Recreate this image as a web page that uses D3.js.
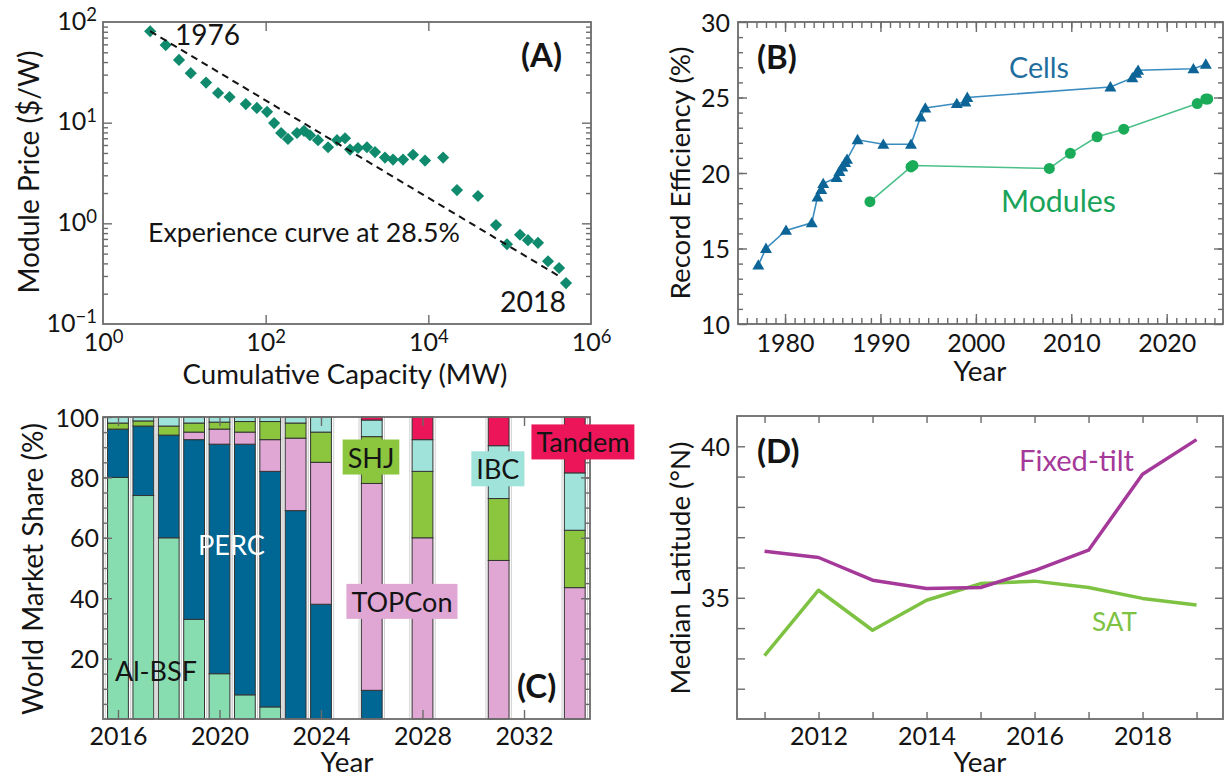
<!DOCTYPE html>
<html>
<head>
<meta charset="utf-8">
<script src="https://cdn.jsdelivr.net/npm/d3@7"></script>
<style>
  html, body { margin: 0; padding: 0; background: #fff; }
  svg { display: block; font-family: Lato, "Open Sans", sans-serif; }
</style>
</head>
<body>
<svg id="chart" width="1225" height="780"></svg>
<script>
// ---------------- Panel A: module price vs cumulative capacity ----------------
const capacityMW = [3.8, 5.9, 8.6, 12, 18.5, 26, 36, 57, 78, 104, 127, 155, 188, 243, 296, 351,
  440, 585, 754, 946, 1090, 1365, 1760, 2210, 2930, 3680, 4890, 6480, 9110, 15200,
  22500, 40800, 67900, 92700, 134000, 168000, 223000, 296000, 405000, 493000];
const modulePrice = [81, 59, 42, 31, 25, 19.7, 18, 15.3, 14, 12.8, 9.9, 7.9, 6.9, 7.9, 8.3, 7.5,
  6.7, 5.7, 6.7, 7.0, 5.4, 5.6, 5.7, 5.1, 4.5, 4.3, 4.3, 4.8, 4.2, 4.5,
  2.14, 1.87, 0.96, 0.62, 0.77, 0.68, 0.64, 0.42, 0.36, 0.255];
const experienceRate = 0.285;          // price drop per doubling of capacity
const experienceStart = [3.8, 81];     // [MW, $/W]
const experienceEndMW = 4.05e5;
const capacityLabelTicks = [1, 1e2, 1e4, 1e6];
const priceLabelTicks = [0.1, 1, 10, 100];

// ---------------- Panel B: record efficiencies ----------------
const cellYears = [1977.2, 1978.0, 1980.1, 1982.8, 1983.4, 1983.8, 1984.0, 1985.4, 1985.7, 1986.0,
  1986.3, 1986.5, 1987.6, 1990.3, 1993.2, 1994.2, 1994.7, 1998.0, 1998.9, 1999.1,
  2014.1, 2016.4, 2016.8, 2017.0, 2022.8, 2024.1];
const cellEfficiency = [13.9, 15.0, 16.2, 16.7, 18.4, 18.9, 19.3, 19.7, 20.1, 20.4,
  20.7, 20.9, 22.2, 21.9, 21.9, 23.7, 24.3, 24.6, 24.7, 25.0,
  25.7, 26.3, 26.6, 26.8, 26.9, 27.2];
const moduleYears = [1988.9, 1993.2, 1993.4, 2007.7, 2009.9, 2012.7, 2015.5, 2023.2, 2024.1, 2024.3];
const moduleEfficiency = [18.1, 20.4, 20.5, 20.3, 21.3, 22.4, 22.9, 24.6, 24.9, 24.9];
const efficiencyYearTicks = [1980, 1990, 2000, 2010, 2020];
const efficiencyTicks = [10, 15, 20, 25, 30];

// ---------------- Panel C: world market share by cell technology ----------------
const shareYears = [2016, 2017, 2018, 2019, 2020, 2021, 2022, 2023, 2024, 2026, 2028, 2031, 2034];
const technologies = ["Al-BSF", "PERC", "TOPCon", "SHJ", "IBC", "Tandem"];
const shareAlBSF  = [80, 74, 60, 33, 15, 8, 4, 0, 0, 0, 0, 0, 0];
const sharePERC   = [16, 23, 34, 59.5, 76, 83, 78, 69, 38, 9.5, 0, 0, 0];
const shareTOPCon = [0, 0, 0, 2.5, 5, 4, 10.5, 24, 47, 68.5, 60, 52.5, 43.5];
const shareSHJ    = [2, 1.7, 3, 3, 2.3, 3.5, 6, 5, 10, 15.5, 22, 20.5, 19];
const shareIBC    = [2, 1.3, 3, 2, 1.7, 1.5, 1.5, 2, 5, 5.5, 10.5, 17.5, 19];
const shareTandem = [0, 0, 0, 0, 0, 0, 0, 0, 0, 1, 7.5, 9.5, 18.5];
const shareYearTicks = [2016, 2020, 2024, 2028, 2032];
const shareTicks = [20, 40, 60, 80, 100];

// ---------------- Panel D: median latitude of new installations ----------------
const latitudeYears = [2011, 2012, 2013, 2014, 2015, 2016, 2017, 2018, 2019];
const fixedTiltLatitude = [36.54, 36.33, 35.58, 35.31, 35.34, 35.9, 36.57, 39.08, 40.22];
const satLatitude = [33.09, 35.25, 33.93, 34.92, 35.47, 35.55, 35.34, 34.98, 34.76];
const latitudeYearTicks = [2012, 2014, 2016, 2018];
const latitudeTicks = [35, 40];

// ---------------- styling ----------------
const AXIS = "#6b6b6b";
const INK = "#141414";
const TICK_FS = 25, TITLE_FS = 27, NOTE_FS = 27, TAG_FS = 33;
const techColors = {
  "Al-BSF": "#88ddb0", "PERC": "#006794", "TOPCon": "#e0a7d5",
  "SHJ": "#8cc63f", "IBC": "#a0e3da", "Tandem": "#ec1559"
};

const svg = d3.select("#chart");
svg.append("rect").attr("width", 1225).attr("height", 780).attr("fill", "#fff");

// ---------------- helpers ----------------
function tickSet(g, axisFn, scale, values, len, transform) {
  const a = g.append("g").attr("transform", transform)
    .call(axisFn(scale).tickValues(values).tickSizeInner(-len).tickSizeOuter(0).tickFormat(""));
  a.select(".domain").remove();
  a.selectAll(".tick text").remove();
  a.selectAll(".tick line").attr("stroke", AXIS).attr("stroke-width", 1.4);
}

function frame(g, x, y, s) {
  const [xa, xb] = x.range(), [ya, yb] = y.range();
  if (s.xMinor) {
    tickSet(g, d3.axisBottom, x, s.xMinor, s.xMinorLen, `translate(0,${ya})`);
    tickSet(g, d3.axisTop, x, s.xMinor, s.xMinorLen, `translate(0,${yb})`);
  }
  if (s.yMinor) {
    tickSet(g, d3.axisLeft, y, s.yMinor, s.yMinorLen, `translate(${xa},0)`);
    tickSet(g, d3.axisRight, y, s.yMinor, s.yMinorLen, `translate(${xb},0)`);
  }
  tickSet(g, d3.axisBottom, x, s.xMajor, s.xLen, `translate(0,${ya})`);
  tickSet(g, d3.axisTop, x, s.xMajor, s.xLen, `translate(0,${yb})`);
  tickSet(g, d3.axisLeft, y, s.yMajor, s.yLen, `translate(${xa},0)`);
  tickSet(g, d3.axisRight, y, s.yMajor, s.yLen, `translate(${xb},0)`);
  g.append("rect").attr("x", xa).attr("y", yb).attr("width", xb - xa).attr("height", ya - yb)
    .attr("fill", "none").attr("stroke", AXIS).attr("stroke-width", 1.8);
}

function xLabels(g, x, yPix, values, fmt, baseline) {
  const a = g.append("g").attr("transform", `translate(0,${yPix})`)
    .call(d3.axisBottom(x).tickValues(values).tickSize(0).tickFormat(fmt));
  a.select(".domain").remove();
  a.attr("font-family", null).attr("font-size", null);
  a.selectAll("text").attr("y", baseline).attr("dy", null)
    .attr("font-size", TICK_FS).attr("fill", INK);
  return a;
}

function yLabels(g, y, xPix, values, fmt, pad, shift) {
  const a = g.append("g").attr("transform", `translate(${xPix},0)`)
    .call(d3.axisLeft(y).tickValues(values).tickSize(0).tickFormat(fmt));
  a.select(".domain").remove();
  a.attr("font-family", null).attr("font-size", null);
  a.selectAll("text").attr("x", -pad).attr("y", shift).attr("dy", null)
    .attr("font-size", TICK_FS).attr("fill", INK);
  return a;
}

function powerOfTen(sel) {
  sel.selectAll("text").each(function (d) {
    const e = Math.round(Math.log10(d));
    const t = d3.select(this).text("10");
    t.append("tspan").attr("dy", "-0.45em").attr("font-size", "0.74em")
      .text(e < 0 ? "\u2212" + (-e) : String(e));
  });
}

// scale a text's font size so that it spans the given width
function fit(sel, width) {
  if (!width) return sel;
  const fs = +sel.attr("font-size");
  const len = sel.node().getComputedTextLength();
  sel.attr("font-size", (fs * width / len).toFixed(2));
  return sel;
}

function note(g, x, y, s, opt = {}) {
  const t = g.append("text").attr("x", x).attr("y", y).text(s)
    .attr("font-size", opt.size || NOTE_FS)
    .attr("font-weight", opt.bold ? 700 : 400)
    .attr("fill", opt.fill || INK)
    .attr("text-anchor", opt.anchor || "start");
  return fit(t, opt.width);
}

function hTitle(g, xCenter, yBase, s, width) {
  const t = g.append("text").attr("x", xCenter).attr("y", yBase).attr("text-anchor", "middle")
    .attr("font-size", TITLE_FS).attr("fill", INK).text(s);
  return fit(t, width);
}

function vTitle(g, xBase, yCenter, s, width) {
  const t = g.append("text").attr("transform", `translate(${xBase},${yCenter}) rotate(-90)`)
    .attr("text-anchor", "middle").attr("font-size", TITLE_FS).attr("fill", INK).text(s);
  return fit(t, width);
}

// =============== Panel A ===============
{
  const g = svg.append("g");
  const x = d3.scaleLog().domain([1, 1e6]).range([103, 591]);
  const y = d3.scaleLog().domain([0.1, 100]).range([324, 22]);

  const minors = [];
  [0.1, 1, 10].forEach(p => d3.range(2, 10).forEach(m => minors.push(p * m)));
  frame(g, x, y, {
    xMajor: [1e2, 1e4], xLen: 9,
    yMajor: [1, 10], yLen: 9, yMinor: minors, yMinorLen: 5
  });

  g.append("g").selectAll("path").data(d3.zip(capacityMW, modulePrice)).join("path")
    .attr("transform", d => `translate(${x(d[0])},${y(d[1])}) rotate(45)`)
    .attr("d", d3.symbol(d3.symbolSquare, 74))
    .attr("fill", "#0f8a6d");

  // experience curve: price falls by experienceRate for every doubling of capacity
  const b = Math.log2(1 - experienceRate);
  const endPrice = experienceStart[1] * Math.pow(experienceEndMW / experienceStart[0], b);
  g.append("line")
    .attr("x1", x(experienceStart[0])).attr("y1", y(experienceStart[1]))
    .attr("x2", x(experienceEndMW)).attr("y2", y(endPrice))
    .attr("stroke", INK).attr("stroke-width", 2).attr("stroke-dasharray", "7,5");

  powerOfTen(xLabels(g, x, 324, capacityLabelTicks, d => d, 27));
  powerOfTen(yLabels(g, y, 103, priceLabelTicks, d => d, 6, 7));

  note(g, 175, 45, "1976", { size: 28, width: 65 });
  note(g, 500, 312, "2018", { size: 28, width: 66 });
  note(g, 148, 242, "Experience curve at 28.5%", { width: 312 });
  note(g, 521, 67, "(A)", { size: TAG_FS, bold: true });

  hTitle(g, 345, 384, "Cumulative Capacity (MW)", 325);
  vTitle(g, 39, 172, "Module Price ($/W)", 243);
}

// =============== Panel B ===============
{
  const g = svg.append("g");
  const x = d3.scaleLinear().domain([1975.07, 2025.9]).range([738, 1223]);
  const y = d3.scaleLinear().domain([10, 30]).range([324, 22]);

  frame(g, x, y, {
    xMajor: efficiencyYearTicks, xLen: 10, xMinor: d3.range(1976, 2026), xMinorLen: 6,
    yMajor: efficiencyTicks, yLen: 9, yMinor: d3.range(11, 30), yMinorLen: 5
  });

  const line = d3.line().x(d => x(d[0])).y(d => y(d[1]));
  const cells = d3.zip(cellYears, cellEfficiency);
  const modules = d3.zip(moduleYears, moduleEfficiency);

  g.append("path").datum(cells).attr("d", line).attr("fill", "none")
    .attr("stroke", "#3a8cc0").attr("stroke-width", 1.6);
  g.append("path").datum(modules).attr("d", line).attr("fill", "none")
    .attr("stroke", "#4cc08a").attr("stroke-width", 1.6);

  g.append("g").selectAll("path").data(cells).join("path")
    .attr("transform", d => `translate(${x(d[0])},${y(d[1]) + 1})`)
    .attr("d", d3.symbol(d3.symbolTriangle, 62)).attr("fill", "#0c6596");
  g.append("g").selectAll("circle").data(modules).join("circle")
    .attr("cx", d => x(d[0])).attr("cy", d => y(d[1])).attr("r", 5.5).attr("fill", "#1aab58");

  xLabels(g, x, 324, efficiencyYearTicks, d3.format("d"), 28);
  yLabels(g, y, 738, efficiencyTicks, d3.format("d"), 8, 9);

  note(g, 1009, 78, "Cells", { fill: "#1f6ea0", width: 60 });
  note(g, 1001, 212, "Modules", { fill: "#1aa35a", width: 115 });
  note(g, 757, 69, "(B)", { size: TAG_FS, bold: true });

  hTitle(g, 980, 381, "Year", 53);
  vTitle(g, 690, 173, "Record Efficiency (%)", 253);
}

// =============== Panel C ===============
{
  const g = svg.append("g");
  const x = d3.scaleLinear().domain([2015.41, 2034.6]).range([103, 590]);
  const y = d3.scaleLinear().domain([0, 100]).range([719, 417]);
  const half = 0.41;

  const rows = shareYears.map((yr, i) => ({
    year: yr, "Al-BSF": shareAlBSF[i], "PERC": sharePERC[i], "TOPCon": shareTOPCon[i],
    "SHJ": shareSHJ[i], "IBC": shareIBC[i], "Tandem": shareTandem[i]
  }));
  const stacked = d3.stack().keys(technologies)(rows);

  // faint separators beside each bar
  const halo = g.append("g").attr("stroke", "#cfcfcf").attr("stroke-width", 1);
  shareYears.forEach(yr => {
    [x(yr - half) - 2.3, x(yr + half) + 2.3].forEach(px => {
      halo.append("line").attr("x1", px).attr("x2", px).attr("y1", y(0)).attr("y2", y(100));
    });
  });

  stacked.forEach(layer => {
    g.append("g").selectAll("rect").data(layer.filter(d => d[1] - d[0] > 0)).join("rect")
      .attr("x", d => x(d.data.year - half))
      .attr("width", d => x(d.data.year + half) - x(d.data.year - half))
      .attr("y", d => y(d[1]))
      .attr("height", d => y(d[0]) - y(d[1]))
      .attr("fill", techColors[layer.key])
      .attr("stroke", "#333").attr("stroke-width", 1);
  });

  frame(g, x, y, {
    xMajor: shareYearTicks, xLen: 9,
    yMajor: shareTicks, yLen: 9, yMinor: d3.range(5, 100, 5), yMinorLen: 5
  });

  xLabels(g, x, 719, shareYearTicks, d3.format("d"), 26);
  yLabels(g, y, 103, shareTicks, d3.format("d"), 4, 9);

  note(g, x(2015.88), y(12.6), "Al-BSF", { width: 82 });
  note(g, x(2019.15), y(54.3), "PERC", { fill: "#fff", width: 67 });

  // technology names on coloured chips
  const chip = (tech, cx, cy) => {
    const t = g.append("text").attr("x", cx).attr("y", cy).attr("text-anchor", "middle")
      .attr("dy", "0.35em").attr("font-size", 27).attr("fill", INK).text(tech);
    const bb = t.node().getBBox();
    g.insert("rect", () => t.node())
      .attr("x", bb.x - 5).attr("y", bb.y - 1).attr("width", bb.width + 10).attr("height", bb.height + 2)
      .attr("fill", techColors[tech]);
  };
  chip("TOPCon", x(2027.19), y(38.6));
  chip("SHJ", x(2025.97), y(86.4));
  chip("IBC", x(2030.97), y(82.5));
  chip("Tandem", x(2034.32), y(91.4));

  note(g, x(2031.72), y(7), "(C)", { size: TAG_FS, bold: true });

  hTitle(g, 347, 772, "Year", 53);
  vTitle(g, 43, 569, "World Market Share (%)", 292);
}

// =============== Panel D ===============
{
  const g = svg.append("g");
  const x = d3.scaleLinear().domain([2010.49, 2019.49]).range([737, 1223]);
  const y = d3.scaleLinear().domain([31, 41]).range([719, 416]);

  frame(g, x, y, {
    xMajor: latitudeYears, xLen: 7,
    yMajor: d3.range(32, 41), yLen: 8
  });

  const line = d3.line().x((d, i) => x(latitudeYears[i])).y(d => y(d));
  g.append("path").datum(satLatitude).attr("d", line).attr("fill", "none")
    .attr("stroke", "#7dc242").attr("stroke-width", 3.5).attr("stroke-linejoin", "round");
  g.append("path").datum(fixedTiltLatitude).attr("d", line).attr("fill", "none")
    .attr("stroke", "#a5399a").attr("stroke-width", 3.5).attr("stroke-linejoin", "round");

  xLabels(g, x, 719, latitudeYearTicks, d3.format("d"), 26);
  yLabels(g, y, 737, latitudeTicks, d3.format("d"), 7, 9);

  note(g, 1019, 471, "Fixed-tilt", { fill: "#a5399a", width: 115 });
  note(g, 1092, 631, "SAT", { fill: "#7dc242", width: 45 });
  note(g, 757, 463, "(D)", { size: TAG_FS, bold: true });

  hTitle(g, 980, 772, "Year", 53);
  vTitle(g, 690, 568, "Median Latitude (\u00B0N)", 253);
}
</script>
</body>
</html>
